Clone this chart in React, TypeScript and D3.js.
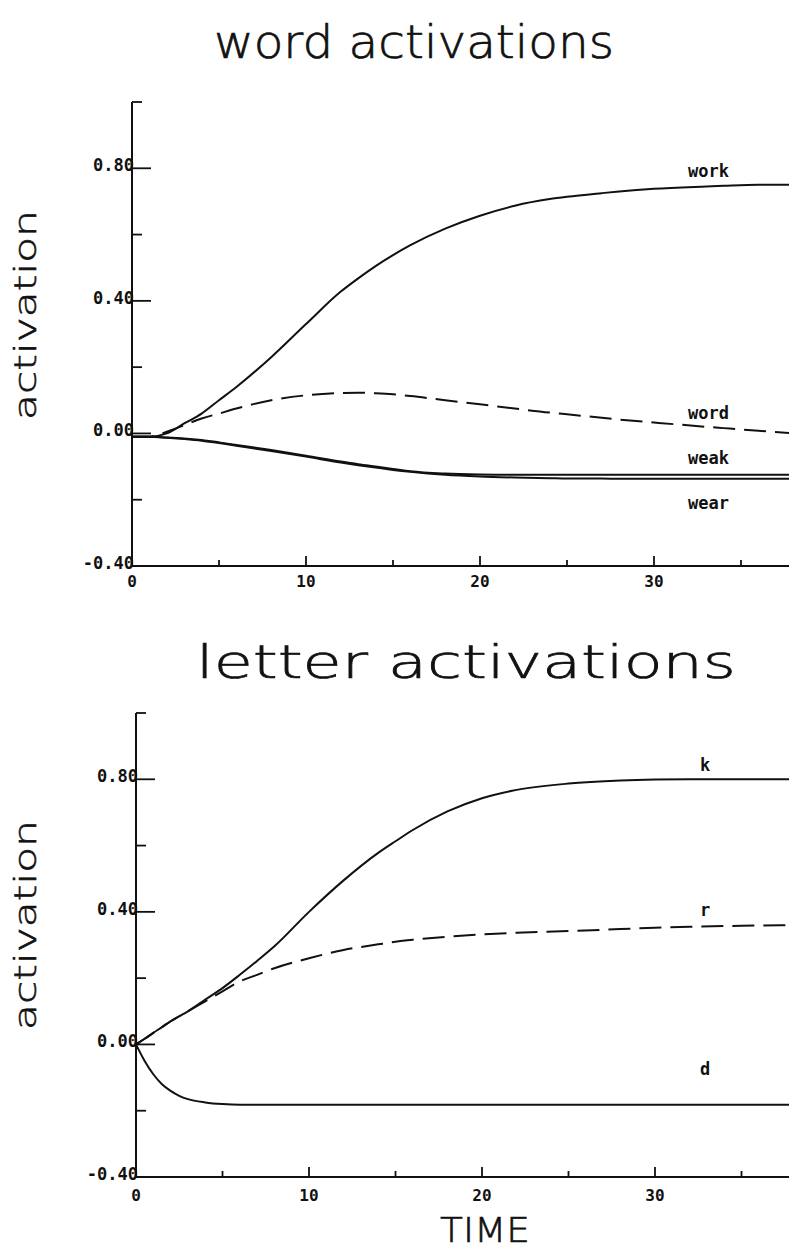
import React from "react";
import * as d3 from "d3";

const W = 789;
const H = 1251;

// ---- data: top panel (word activations) ----
const wordTimes = [0, 1, 2, 3, 4, 5, 6, 8, 10, 12, 13, 14, 15, 16, 18, 20, 22, 24, 25, 27, 28, 30, 33, 34, 36, 38];
const workVals = [-0.01, -0.01, 0.0, 0.03, 0.06, 0.1, 0.14, 0.23, 0.33, 0.428, 0.468, 0.505, 0.538, 0.568, 0.618, 0.657, 0.687, 0.707, 0.714, 0.725, 0.73, 0.738, 0.745, 0.747, 0.75, 0.75];
const wordVals = [-0.01, -0.01, 0.005, 0.025, 0.045, 0.06, 0.075, 0.1, 0.115, 0.122, 0.123, 0.121, 0.118, 0.113, 0.1, 0.088, 0.075, 0.063, 0.058, 0.047, 0.042, 0.033, 0.02, 0.016, 0.008, 0.0];
const weakVals = [-0.01, -0.01, -0.012, -0.015, -0.02, -0.027, -0.035, -0.05, -0.067, -0.085, -0.093, -0.1, -0.107, -0.114, -0.121, -0.124, -0.125, -0.125, -0.125, -0.125, -0.125, -0.125, -0.125, -0.125, -0.125, -0.125];
const wearVals = [-0.01, -0.01, -0.013, -0.017, -0.022, -0.029, -0.037, -0.053, -0.07, -0.088, -0.096, -0.103, -0.11, -0.116, -0.125, -0.13, -0.133, -0.135, -0.136, -0.136, -0.137, -0.137, -0.137, -0.137, -0.137, -0.137];

// ---- data: bottom panel (letter activations) ----
const letterTimes = [0, 0.5, 1, 1.5, 2, 2.5, 3, 4, 5, 6, 7, 8, 10, 12, 14, 15, 16, 18, 20, 22, 25, 28, 30, 32, 35, 38];
const kVals = [0, 0.017, 0.035, 0.052, 0.07, 0.085, 0.1, 0.135, 0.17, 0.21, 0.252, 0.296, 0.4, 0.495, 0.578, 0.613, 0.647, 0.703, 0.743, 0.768, 0.787, 0.796, 0.799, 0.8, 0.8, 0.8];
const rVals = [0, 0.017, 0.035, 0.052, 0.07, 0.085, 0.1, 0.13, 0.16, 0.19, 0.21, 0.23, 0.26, 0.285, 0.302, 0.31, 0.316, 0.325, 0.332, 0.337, 0.342, 0.348, 0.352, 0.355, 0.358, 0.36];
const dVals = [0, -0.05, -0.09, -0.12, -0.14, -0.155, -0.165, -0.175, -0.18, -0.182, -0.182, -0.182, -0.182, -0.182, -0.182, -0.182, -0.182, -0.182, -0.182, -0.182, -0.182, -0.182, -0.182, -0.182, -0.182, -0.182];

const yMajorTicks = [0.8, 0.4, 0.0, -0.4];
const yMinorTicks = [1.0, 0.6, 0.2, -0.2];
const yTickLabels = ["0.80", "0.40", "0.00", "-0.40"];
const xMajorTicks = [10, 20, 30];
const xMinorTicks = [5, 15, 25, 35];
const xTickLabels = ["0", "10", "20", "30"];
const xLabelTicks = [0, 10, 20, 30];

type Series = { name: string; times: number[]; vals: number[]; dashed: boolean; labelX: number; labelDy: number; labelT: number };

const topSeries: Series[] = [
  { name: "work", times: wordTimes, vals: workVals, dashed: false, labelX: 688, labelDy: -10, labelT: 33 },
  { name: "word", times: wordTimes, vals: wordVals, dashed: true, labelX: 688, labelDy: -8, labelT: 33 },
  { name: "weak", times: wordTimes, vals: weakVals, dashed: false, labelX: 688, labelDy: -11, labelT: 33 },
  { name: "wear", times: wordTimes, vals: wearVals, dashed: false, labelX: 688, labelDy: 30, labelT: 33 },
];
const bottomSeries: Series[] = [
  { name: "k", times: letterTimes, vals: kVals, dashed: false, labelX: 700, labelDy: -8, labelT: 35 },
  { name: "r", times: letterTimes, vals: rVals, dashed: true, labelX: 700, labelDy: -10, labelT: 35 },
  { name: "d", times: letterTimes, vals: dVals, dashed: false, labelX: 700, labelDy: -30, labelT: 35 },
];

const mono = "'DejaVu Sans Mono', monospace";
const thin = "'DejaVu Sans', sans-serif";

function Panel({ x0, px10, yTop, yBottom, series, title, titleX, titleY, titleLen, ylabelY, tickLabelY }: any) {
  const x = d3.scaleLinear().domain([0, 10]).range([x0, x0 + px10]);
  const y = d3.scaleLinear().domain([-0.4, 1.0]).range([yBottom, yTop]);
  const line = (s: Series) =>
    d3
      .line<number>()
      .x((_, i) => x(s.times[i]))
      .y((v) => y(v))
      .curve(d3.curveMonotoneX)(s.vals) as string;
  const xEnd = W + 5;
  return (
    <g>
      <text x={titleX} y={titleY} fontFamily={thin} fontWeight={200} fontSize={46} textLength={titleLen} lengthAdjust="spacingAndGlyphs" fill="#111" stroke="#111" strokeWidth={0.7}>
        {title}
      </text>
      <text
        transform={`translate(36,${ylabelY}) rotate(-90)`}
        textAnchor="middle"
        fontFamily={thin}
        fontWeight={200}
        fontSize={31}
        textLength={210}
        lengthAdjust="spacingAndGlyphs"
        fill="#111"
        stroke="#111"
        strokeWidth={0.6}
      >
        activation
      </text>
      {/* axes */}
      <line x1={x(0)} x2={x(0)} y1={y(1.0)} y2={y(-0.4)} stroke="#111" strokeWidth={2} />
      <line x1={x(0)} x2={xEnd} y1={y(-0.4)} y2={y(-0.4)} stroke="#111" strokeWidth={2} />
      {yMajorTicks.map((t) => (
        <line key={"ym" + t} x1={x(0)} x2={x(0) + 19} y1={y(t)} y2={y(t)} stroke="#111" strokeWidth={1.8} />
      ))}
      {yMinorTicks.map((t) => (
        <line key={"yn" + t} x1={x(0)} x2={x(0) + 10} y1={y(t)} y2={y(t)} stroke="#111" strokeWidth={1.8} />
      ))}
      {yMajorTicks.map((t, i) => (
        <text key={"yl" + t} x={x(0) + 2} y={y(t) + 3} textAnchor="end" fontFamily={mono} fontWeight="bold" fontSize={17} fill="#111">
          {yTickLabels[i]}
        </text>
      ))}
      {xMajorTicks.map((t) => (
        <line key={"xm" + t} x1={x(t)} x2={x(t)} y1={y(-0.4)} y2={y(-0.4) - 10} stroke="#111" strokeWidth={1.8} />
      ))}
      {xMinorTicks.map((t) => (
        <line key={"xn" + t} x1={x(t)} x2={x(t)} y1={y(-0.4)} y2={y(-0.4) - 6} stroke="#111" strokeWidth={1.8} />
      ))}
      {xLabelTicks.map((t, i) => (
        <text key={"xl" + t} x={x(t)} y={tickLabelY} textAnchor="middle" fontFamily={mono} fontWeight="bold" fontSize={16} fill="#111">
          {xTickLabels[i]}
        </text>
      ))}
      {series.map((s: Series) => (
        <path
          key={s.name}
          d={line(s)}
          fill="none"
          stroke="#111"
          strokeWidth={2}
          strokeDasharray={s.dashed ? "22,9" : undefined}
        />
      ))}
      {series.map((s: Series) => {
        const idx = s.times.indexOf(s.labelT);
        return (
          <text key={"lab" + s.name} x={s.labelX} y={y(s.vals[idx]) + s.labelDy} fontFamily={mono} fontWeight="bold" fontSize={17} fill="#111">
            {s.name}
          </text>
        );
      })}
    </g>
  );
}

export default function App() {
  return (
    <svg width={W} height={H} style={{ position: "absolute", left: 0, top: 0, background: "#fff" }}>
      <rect width={W} height={H} fill="#fff" />
      <Panel
        x0={132}
        px10={174}
        yTop={102}
        yBottom={566}
        series={topSeries}
        title="word activations"
        titleX={214}
        titleY={58}
        titleLen={400}
        ylabelY={315}
        tickLabelY={587}
      />
      <Panel
        x0={136}
        px10={173}
        yTop={713}
        yBottom={1177}
        series={bottomSeries}
        title="letter activations"
        titleX={196}
        titleY={678}
        titleLen={540}
        ylabelY={925}
        tickLabelY={1201}
      />
      <text x={485} y={1242} textAnchor="middle" fontFamily={thin} fontWeight={200} fontSize={34} textLength={90} lengthAdjust="spacingAndGlyphs" fill="#111" stroke="#111" strokeWidth={0.6}>
        TIME
      </text>
    </svg>
  );
}
